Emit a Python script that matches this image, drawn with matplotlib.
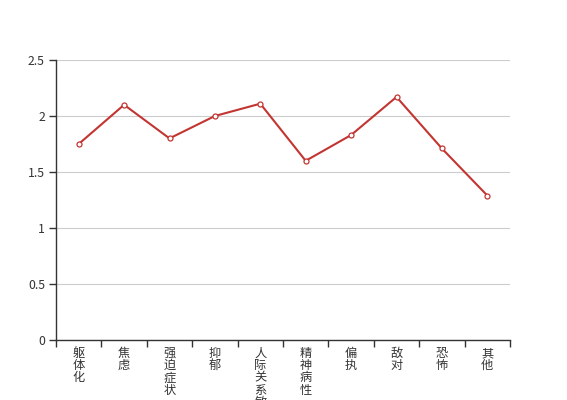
import matplotlib
matplotlib.use("Agg")
import matplotlib.pyplot as plt
from matplotlib.ticker import FuncFormatter, FixedLocator

categories = ["躯体化", "焦虑", "强迫症状", "抑郁", "人际关系敏感", "精神病性", "偏执", "敌对", "恐怖", "其他"]
values = [1.75, 2.10, 1.80, 2.00, 2.11, 1.60, 1.83, 2.17, 1.71, 1.29]
yticks = [0, 0.5, 1, 1.5, 2, 2.5]

plt.rcParams['font.family'] = ['Noto Sans CJK SC', 'DejaVu Sans']

fig = plt.figure(figsize=(5.67, 4.0), dpi=100)
ax = fig.add_axes([56/567, 60/400, (510-56)/567, 280/400])

n = len(categories)
x = list(range(n))
ax.plot(x, values, color="#c23531", lw=1.5, marker="o", markersize=3.6,
        markerfacecolor="white", markeredgecolor="#c23531", markeredgewidth=0.9, zorder=3,
        clip_on=False)

ax.set_xlim(-0.5, n - 0.5)
ax.set_ylim(0, 2.5)
ax.set_yticks(yticks)
ax.yaxis.set_major_formatter(FuncFormatter(lambda v, p: f"{v:g}"))
ax.grid(axis="y", color="#cccccc", lw=0.8)
ax.set_axisbelow(True)

ax.set_xticks(x)
ax.set_xticklabels(["\n".join(c) for c in categories], fontsize=8.8, color="#333333",
                   linespacing=0.92, va="top")
ax.xaxis.set_minor_locator(FixedLocator([i - 0.5 for i in range(n + 1)]))
ax.tick_params(axis="x", which="major", length=0, pad=5)
ax.tick_params(axis="x", which="minor", length=5, width=1, color="#333333")
ax.tick_params(axis="y", length=5, width=1, color="#333333", labelsize=8.8,
               labelcolor="#333333", pad=3)

for s in ["top", "right"]:
    ax.spines[s].set_visible(False)
for s in ["left", "bottom"]:
    ax.spines[s].set_color("#333333")
    ax.spines[s].set_linewidth(1)

fig.savefig("out.png", dpi=100)
